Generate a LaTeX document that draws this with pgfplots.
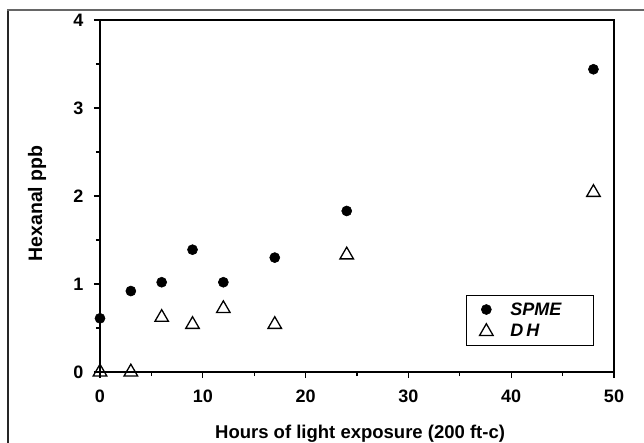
\documentclass[border=0pt]{standalone}
\usepackage{pgfplots}
\pgfplotsset{compat=1.18}
\usepackage{fontspec}
\setmainfont{Liberation Sans}
\begin{document}
\begin{tikzpicture}[x=1pt,y=1pt]
\path[use as bounding box] (-100,-70) rectangle (544,372);
\draw[black!85, line width=1.6pt] (-92,-71) -- (-92,362);
\draw[gray!80!black, line width=1.6pt] (-92.8,362) -- (545,362);
\begin{axis}[
  at={(0,0)}, anchor=origin,
  scale only axis, width=514pt, height=352pt,
  xmin=0, xmax=50, ymin=0, ymax=4,
  xtick={0,10,20,30,40,50}, ytick={0,1,2,3,4},
  minor xtick={5,15,25,35,45}, minor ytick={0.5,1.5,2.5,3.5},
  tick align=outside, major tick length=6pt, minor tick length=4pt,
  xtick pos=bottom, ytick pos=left,
  axis line style={line width=1.7pt}, tick style={line width=1.3pt, black},
  every tick label/.style={font=\bfseries\fontsize{18}{20}\selectfont},
  /pgf/number format/assume math mode=true,
  xticklabel style={yshift=-8pt},
  yticklabel style={xshift=-7pt},
  xlabel={\bfseries Hours of light exposure (200 ft-c)},
  ylabel={\bfseries Hexanal ppb},
  label style={font=\bfseries\fontsize{18.5}{20}\selectfont},
  xlabel style={at={(axis description cs:0.506,-0.1875)}, anchor=base},
  ylabel style={at={(axis description cs:-0.1128,0.479)}, anchor=base, font=\bfseries\fontsize{19.5}{21}\selectfont},
  clip=false,
  legend image code/.code={\path[draw=none,fill=none] (-20pt,-11pt) rectangle (20pt,11pt); \draw[#1] plot coordinates {(0pt,0pt)};},
  legend style={at={(axis description cs:0.961,0.219)}, anchor=north east,
    draw=black, line width=1.2pt,
    font=\bfseries\itshape\fontsize{18}{20}\selectfont,
    inner xsep=0pt, inner ysep=3pt, row sep=0pt, column sep=4pt},
]
\addplot[only marks, mark=*, mark size=5pt, mark options={fill=black, draw=black, line width=0.6pt}]
coordinates {(0,0.61) (3,0.92) (6,1.02) (9,1.39) (12,1.02) (17,1.30) (24,1.83) (48,3.44)};
\addlegendentry[draw=none, text width=83pt, align=left, inner sep=0pt, minimum height=22pt]{SPME}
\addplot[only marks, mark=triangle, mark size=7.8pt, mark options={draw=black, line width=1.3pt, fill=white}]
coordinates {(0,0) (3,0) (6,0.62) (9,0.54) (12,0.72) (17,0.54) (24,1.33) (48,2.04)};
\addlegendentry[draw=none, text width=83pt, align=left, inner sep=0pt, minimum height=22pt]{D\,H}
\end{axis}
\end{tikzpicture}
\end{document}
